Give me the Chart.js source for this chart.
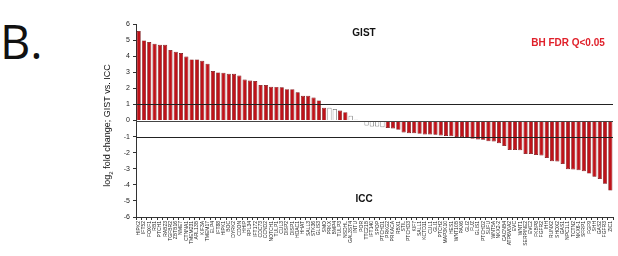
<!DOCTYPE html>
<html lang="en">
<head>
    <meta charset="UTF-8">
    <title>GIST vs ICC fold change</title>
    <script src="https://cdn.jsdelivr.net/npm/chart.js"></script>
    <style>
        body {
            margin: 0;
            padding: 0;
            background: #fff;
        }
        .wrap {
            position: relative;
            width: 618px;
            height: 256px;
        }
        .panel-letter {
            position: absolute;
            left: 0px;
            top: 9px;
            font-family: "Open Sans", sans-serif;
            font-size: 47px;
            color: #111;
        }
        canvas {
            position: absolute;
            left: 0;
            top: 0;
        }
    </style>
</head>
<body>
    <div class="wrap">
        <div class="panel-letter">B.</div>
        <canvas id="foldChart" width="618" height="256"></canvas>
    </div>

    <script>
        // genes, ordered as in the figure
        const genes = [
            'HIPK2', 'IFT52', 'FOXF1', 'RB1', 'PTCH1', 'RAB23', 'TGFBR2', 'ZBTB16', 'NME7', 'CTNNA1',
            'TMEM231', 'ARL13B', 'KIF3A', 'TMEM17', 'ELP4', 'IFT88', 'HIPK1', 'BOC', 'DYRK2', 'CDON',
            'HHIP', 'RPL34', 'IFT172', 'CDC73', 'CCND2', 'NOTCH1', 'TULP1', 'CUL3', 'DISP2', 'DISP1',
            'HDAC1', 'HHAT', 'SALL3', 'STK36', 'GLIS3', 'SMO', 'PRKX', 'BMP4', 'TULP3', 'NSDHL',
            'GAL3ST4', 'INTU', 'POR', 'TTC21B', 'IFT140', 'SPOP', 'PTCHD1', 'PRKG2', 'PRKACA', 'RBX1',
            'STIL', 'PTCHD3', 'KIF7', 'SALL1', 'KCTD11', 'CUL1', 'GLI1', 'PTCH2', 'MAP3K10', 'HES1',
            'WNT10B', 'PAX6', 'GLI2', 'FUZ', 'GLIS1', 'PTCHD2', 'SUFU', 'WNT5A', 'NKX2-2', 'CACNB4',
            'ATP6V0A2', 'EVC', 'WNT1', 'SERPINE2', 'EVC2', 'FKBP8', 'FGFR2', 'IHH', 'RUNX2', 'SHOX2',
            'GAS1', 'NPC1L1', 'TCTN2', 'NKX6-1', 'SFRP1', 'FGF9', 'SHH', 'GAS2', 'FGFR3', 'ZIC1'
        ];

        // log2 fold change GIST vs ICC
        const foldChange = [
            5.56, 4.98, 4.88, 4.77, 4.71, 4.71, 4.38, 4.27, 4.19, 3.98,
            3.80, 3.80, 3.71, 3.53, 3.07, 2.99, 2.97, 2.90, 2.90, 2.80,
            2.55, 2.49, 2.45, 2.20, 2.20, 2.10, 2.09, 2.07, 1.95, 1.95,
            1.76, 1.54, 1.54, 1.43, 1.25, 0.79, 0.79, 0.71, 0.62, 0.52,
            0.29, 0.04, -0.03, -0.31, -0.37, -0.37, -0.42, -0.46, -0.50, -0.58,
            -0.75, -0.79, -0.79, -0.83, -0.87, -0.87, -0.89, -0.93, -0.96, -0.98,
            -1.02, -1.04, -1.08, -1.14, -1.18, -1.20, -1.29, -1.31, -1.41, -1.58,
            -1.83, -1.83, -1.85, -2.08, -2.08, -2.14, -2.18, -2.33, -2.53, -2.55,
            -2.70, -3.03, -3.05, -3.09, -3.16, -3.30, -3.49, -3.63, -3.93, -4.36
        ];

        // 1 = BH FDR Q<0.05 (red), 0 = not significant (white)
        const significant = [
            1, 1, 1, 1, 1, 1, 1, 1, 1, 1,
            1, 1, 1, 1, 1, 1, 1, 1, 1, 1,
            1, 1, 1, 1, 1, 1, 1, 1, 1, 1,
            1, 1, 1, 1, 1, 1, 0, 0, 1, 1,
            0, 0, 0, 0, 0, 0, 0, 1, 1, 1,
            1, 1, 1, 1, 1, 1, 1, 1, 1, 1,
            1, 1, 1, 1, 1, 1, 1, 1, 1, 1,
            1, 1, 1, 1, 1, 1, 1, 1, 1, 1,
            1, 1, 1, 1, 1, 1, 1, 1, 1, 1
        ];

        const yTicks = [-6, -5, -4, -3, -2, -1, 0, 1, 2, 3, 4, 5, 6];
        const refLines = [1, 0, -1];

        const redFill = '#bf1219';
        const redEdge = '#6e080c';

        // reference lines, group labels and the axis title
        const extrasPlugin = {
            id: 'extras',
            afterDatasetsDraw(chart) {
                const ctx = chart.ctx;
                const area = chart.chartArea;
                const y = chart.scales.y;
                ctx.save();
                refLines.forEach(v => {
                    const py = Math.round(y.getPixelForValue(v)) + 0.5;
                    ctx.strokeStyle = v === 0 ? '#444' : '#222';
                    ctx.lineWidth = 1;
                    ctx.beginPath();
                    ctx.moveTo(area.left, py);
                    ctx.lineTo(area.right, py);
                    ctx.stroke();
                });

                ctx.fillStyle = '#111';
                ctx.font = 'bold 10px "Liberation Sans", Arial, sans-serif';
                ctx.textAlign = 'center';
                ctx.textBaseline = 'middle';
                ctx.fillText('GIST', 364, y.getPixelForValue(5.4));
                ctx.fillText('ICC', 364, y.getPixelForValue(-4.9));

                ctx.fillStyle = '#e0202a';
                ctx.fillText('BH FDR Q<0.05', 568, y.getPixelForValue(4.8));

                // y axis title with subscript
                ctx.translate(108, (area.top + area.bottom) / 2 + 5);
                ctx.rotate(-Math.PI / 2);
                ctx.fillStyle = '#111';
                ctx.textAlign = 'left';
                ctx.textBaseline = 'middle';
                const bigFont = '9px "Liberation Sans", Arial, sans-serif';
                const subFont = '6px "Liberation Sans", Arial, sans-serif';
                const part1 = 'log';
                const part2 = '2';
                const part3 = ' fold change; GIST vs. ICC';
                ctx.font = bigFont;
                const w1 = ctx.measureText(part1).width;
                const w3 = ctx.measureText(part3).width;
                ctx.font = subFont;
                const w2 = ctx.measureText(part2).width;
                let x = -(w1 + w2 + w3) / 2;
                ctx.font = bigFont;
                ctx.fillText(part1, x, 0);
                x += w1;
                ctx.font = subFont;
                ctx.fillText(part2, x, 3);
                x += w2;
                ctx.font = bigFont;
                ctx.fillText(part3, x, 0);
                ctx.restore();
            }
        };

        const ctx = document.getElementById('foldChart').getContext('2d');
        const foldChart = new Chart(ctx, {
            type: 'bar',
            data: {
                labels: genes,
                datasets: [{
                    label: 'log2 fold change',
                    data: foldChange,
                    backgroundColor: significant.map(s => s ? redFill : '#ffffff'),
                    borderColor: significant.map(s => s ? redEdge : '#555555'),
                    borderWidth: 0.7,
                    barPercentage: 0.78,
                    categoryPercentage: 1.0
                }]
            },
            options: {
                responsive: false,
                animation: false,
                layout: {
                    padding: { left: 0, right: 5, top: 24, bottom: 0 }
                },
                plugins: {
                    legend: { display: false },
                    tooltip: { enabled: false }
                },
                scales: {
                    x: {
                        afterFit: s => { s.height = 39; },
                        grid: {
                            drawOnChartArea: false,
                            drawTicks: true,
                            tickLength: 3,
                            color: '#333',
                            offset: true
                        },
                        border: { display: true, color: '#333' },
                        ticks: {
                            autoSkip: false,
                            minRotation: 90,
                            maxRotation: 90,
                            padding: 1,
                            color: '#222',
                            font: { size: 5, family: '"Liberation Sans", Arial, sans-serif' }
                        }
                    },
                    y: {
                        min: -6,
                        max: 6,
                        afterFit: s => { s.width = 136; },
                        afterBuildTicks: s => { s.ticks = yTicks.map(v => ({ value: v })); },
                        grid: {
                            drawOnChartArea: false,
                            drawTicks: true,
                            tickLength: 3,
                            color: '#333'
                        },
                        border: { display: true, color: '#333' },
                        ticks: {
                            padding: 3,
                            color: '#222',
                            font: { size: 7, family: '"Liberation Sans", Arial, sans-serif' }
                        }
                    }
                }
            },
            plugins: [extrasPlugin]
        });
    </script>
</body>
</html>
